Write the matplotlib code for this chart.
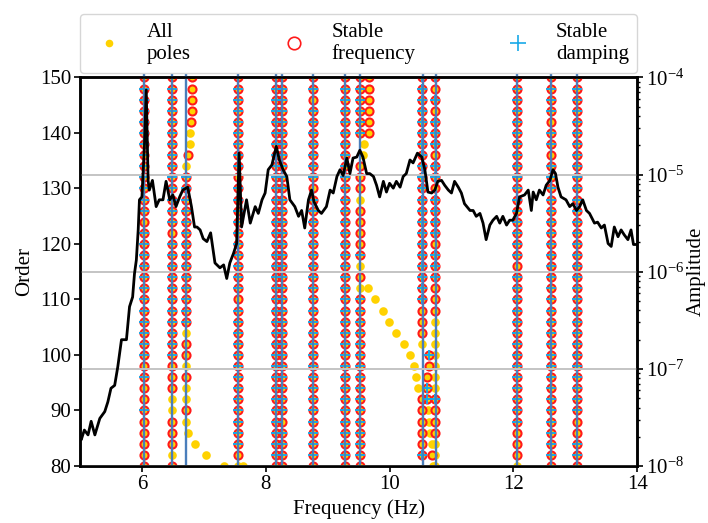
import numpy as np
import matplotlib
matplotlib.use("Agg")
import matplotlib.pyplot as plt
from matplotlib.lines import Line2D

plt.rcParams['font.family'] = ['Liberation Serif', 'DejaVu Serif']
plt.rcParams['mathtext.fontset'] = 'stix'
plt.rcParams['font.size'] = 15

# ---------------- data ----------------
orders = [80, 82, 84, 86, 88, 90, 92, 94, 96, 98, 100, 102, 104, 106, 108, 110, 112, 114,
          116, 118, 120, 122, 124, 126, 128, 130, 132, 134, 136, 138, 140, 142, 144, 146, 148, 150]

# frequency of each pole column (Hz)
column_freqs = [6.03, 6.48, 6.71, 7.56, 8.16, 8.27, 8.77, 9.28, 9.52, 10.53, 10.74, 12.06, 12.60, 13.02]
# per-order status, order 80 -> 150 (P: pole only, F: stable frequency, D: stable freq + damping, -: none)
column_codes = [
    "FFFFFD FFDFDD DDDDDD DDDDFD DDDDDD DDDDDD",
    "FPFFFP PFFFDD DDDDDD DDDFDD DDDDDD DDDDDD",
    "----PF PPFPFF PDDDDD DDDDDD DDDP-- ------",
    "PFDDDD DDDDDD DDDFDD DDDDDD DDFDDD DDDDDD",
    "FDDDDD DDDDDD DDDDDD DDDDDD DDDDDD DDDDDD",
    "FDDDFD DDDDDD DDDDDD DDDDDD DDDDDD DDDDDD",
    "DDDDDD DDDDDD DDDDDD DDDDDD DFDDDD DDDFDD",
    "DDDDDD DDDDDD DDDDDD DDDDDD DDDDDD DDDDDD",
    "DDDDDD DDDDDD DDDDPF PDFFFF PFFF-- DDDDDD",
    "-DFFFF F----P FFFDDD DDDDDD DDDDDD DDDDDD",
    "PPPFFF DPPPPP PPFFFD DDFDDD DFDDFD DDFDFD",
    "PFFFDD DDDDDD DDDDDD FDDDDD DDDDDD DDDDDD",
    "DDDDDD DDDDDD DDDDDD DDDDDD DDDDFD DFDDDD",
    "DDDFFD DDDDDD DDDDDD DDDDDD DDDDDD DDDDDD",
]

# poles that wander off the columns
extra_freq = [6.75, 6.77, 6.77, 6.80, 6.81, 6.81, 6.81, 6.81,
              6.75, 6.86, 7.04, 7.33, 7.63,
              9.67, 9.67, 9.67, 9.67, 9.67, 9.67, 9.58, 9.57,
              9.65, 9.77, 9.89, 9.99, 10.11, 10.24, 10.33, 10.39, 10.42, 10.46,
              10.63, 10.63, 10.61, 10.61, 10.61, 10.62, 10.64, 10.65, 10.68, 10.69, 10.70]
extra_order = [136, 138, 140, 142, 144, 146, 148, 150,
               86, 84, 82, 80, 80,
               140, 142, 144, 146, 148, 150, 138, 136,
               112, 110, 108, 106, 104, 102, 100, 98, 96, 94,
               100, 98, 96, 94, 92, 90, 88, 86, 84, 82, 80]
extra_code = ["F", "P", "P", "F", "F", "F", "F", "F",
              "P", "P", "P", "P", "P",
              "F", "F", "F", "F", "F", "F", "P", "P",
              "P", "P", "P", "P", "P", "P", "P", "P", "P", "P",
              "D", "F", "F", "D", "D", "P", "P", "P", "P", "F", "P"]

# identified modes (vertical lines)
mode_freqs = [6.03, 6.48, 6.71, 7.56, 8.16, 8.27, 8.77, 9.28, 9.52, 10.54, 10.75, 12.06, 12.60, 13.02]

# amplitude spectrum
spec_freq = [5.00, 5.02, 5.07, 5.13, 5.18, 5.24, 5.32, 5.40, 5.45, 5.50, 5.56, 5.61, 5.67, 5.75, 5.80,
             5.85, 5.88, 5.91, 5.94, 5.96, 6.00, 6.04, 6.07, 6.10, 6.12, 6.17, 6.23, 6.28, 6.34, 6.39,
             6.45, 6.50, 6.55, 6.61, 6.66, 6.74, 6.80, 6.85, 6.89, 6.94, 6.99, 7.05, 7.11, 7.18, 7.26,
             7.32, 7.37, 7.42, 7.48, 7.53, 7.57, 7.61, 7.69, 7.75, 7.83, 7.88, 7.94, 7.99, 8.04, 8.10,
             8.17, 8.22, 8.28, 8.34, 8.39, 8.47, 8.53, 8.58, 8.63, 8.69, 8.74, 8.78, 8.85, 8.90, 8.98,
             9.04, 9.09, 9.15, 9.20, 9.25, 9.31, 9.36, 9.41, 9.47, 9.52, 9.57, 9.63, 9.68, 9.74, 9.79,
             9.84, 9.90, 9.95, 10.00, 10.06, 10.11, 10.17, 10.22, 10.27, 10.33, 10.38, 10.45, 10.52, 10.57, 10.62,
             10.68, 10.73, 10.78, 10.84, 10.89, 10.95, 11.00, 11.05, 11.11, 11.16, 11.21, 11.30, 11.35, 11.40, 11.46,
             11.51, 11.56, 11.62, 11.67, 11.73, 11.78, 11.83, 11.89, 11.94, 11.99, 12.05, 12.10, 12.18, 12.24, 12.29,
             12.32, 12.37, 12.42, 12.48, 12.53, 12.59, 12.64, 12.68, 12.72, 12.77, 12.85, 12.91, 12.96, 13.02, 13.07,
             13.12, 13.18, 13.23, 13.31, 13.36, 13.42, 13.47, 13.53, 13.58, 13.63, 13.69, 13.74, 13.79, 13.85, 13.90,
             13.94, 13.98]
spec_log_amp = [-7.70, -7.73, -7.63, -7.68, -7.54, -7.68, -7.51, -7.44, -7.34, -7.20, -7.17, -6.98, -6.70, -6.70, -6.36,
                -6.26, -6.02, -5.88, -5.57, -5.26, -5.23, -4.71, -4.13, -5.06, -5.16, -5.06, -5.33, -5.26, -5.26, -5.07,
                -5.26, -5.21, -5.33, -5.23, -5.16, -5.13, -5.33, -5.54, -5.54, -5.57, -5.66, -5.69, -5.60, -5.91, -5.96,
                -5.93, -6.07, -5.91, -5.81, -5.71, -4.78, -5.54, -5.26, -5.50, -5.33, -5.40, -5.26, -5.19, -4.95, -4.90,
                -4.71, -4.85, -4.95, -5.02, -5.26, -5.33, -5.43, -5.37, -5.55, -5.26, -5.16, -5.28, -5.37, -5.40, -5.33,
                -5.16, -5.19, -5.02, -4.95, -5.01, -4.83, -4.99, -4.83, -4.82, -4.75, -4.82, -4.99, -4.99, -5.02, -5.11,
                -5.23, -5.07, -5.18, -5.09, -5.14, -5.07, -5.13, -5.02, -4.99, -4.85, -4.88, -4.78, -4.82, -4.95, -5.18,
                -5.19, -5.16, -5.07, -5.06, -5.11, -5.16, -5.19, -5.07, -5.13, -5.19, -5.30, -5.37, -5.37, -5.43, -5.40,
                -5.50, -5.67, -5.52, -5.47, -5.43, -5.50, -5.43, -5.52, -5.47, -5.47, -5.40, -5.23, -5.21, -5.16, -5.37,
                -5.18, -5.26, -5.16, -5.21, -5.11, -5.06, -4.95, -4.99, -5.13, -5.23, -5.26, -5.33, -5.30, -5.37, -5.33,
                -5.26, -5.37, -5.40, -5.50, -5.49, -5.55, -5.52, -5.71, -5.74, -5.54, -5.64, -5.57, -5.62, -5.67, -5.57,
                -5.72, -5.72]

legend_labels = ["All\npoles", "Stable\nfrequency", "Stable\ndamping"]

# ---------------- colours / styles ----------------
c_pole = '#FFD200'
c_freq = '#FF1A1A'
c_damp = '#19A9E8'
c_line = '#4A7EBB'

# ---------------- assemble pole sets ----------------
pole_f, pole_o = [], []
sf_f, sf_o = [], []
sd_f, sd_o = [], []

def add(f, o, c):
    if c in "PFD":
        pole_f.append(f); pole_o.append(o)
    if c in "FD":
        sf_f.append(f); sf_o.append(o)
    if c == "D":
        sd_f.append(f); sd_o.append(o)

for f, codes in zip(column_freqs, column_codes):
    codes = codes.replace(" ", "")
    assert len(codes) == len(orders), (f, len(codes))
    for o, c in zip(orders, codes):
        add(f, o, c)
for f, o, c in zip(extra_freq, extra_order, extra_code):
    add(f, o, c)

# ---------------- figure ----------------
fig = plt.figure(figsize=(7.08, 5.23), dpi=100)
ax = fig.add_axes([0.113, 0.109, 0.787, 0.743])

ax.plot(pole_f, pole_o, ls='none', marker='o', ms=6.2, color=c_pole, mew=0, zorder=2)
ax.plot(sf_f, sf_o, ls='none', marker='o', ms=5.8, mfc='none', mec=c_freq, mew=1.5, zorder=3)
ax.plot(sd_f, sd_o, ls='none', marker='+', ms=6.5, color=c_damp, mew=1.4, zorder=4)
ax.vlines(mode_freqs, 80, 150.7, colors=c_line, lw=1.7, zorder=5, clip_on=False)

ax.set_xlim(5, 14)
ax.set_ylim(80, 150)
ax.set_xticks([6, 8, 10, 12, 14])
ax.set_yticks([80, 90, 100, 110, 120, 130, 140, 150])
ax.set_xlabel('Frequency (Hz)')
ax.set_ylabel('Order')

ax2 = ax.twinx()
ax2.set_yscale('log')
ax2.plot(spec_freq, 10.0 ** np.array(spec_log_amp), color='black', lw=2.0, zorder=3)
ax2.set_ylim(1e-8, 1e-4)
ax2.set_xlim(5, 14)
ax2.grid(True, which='major', axis='y', color='#c4c4c4', lw=1.4, zorder=0)
ax2.set_ylabel('Amplitude', labelpad=2)

for a in (ax, ax2):
    for s in a.spines.values():
        s.set_linewidth(1.8)
    a.tick_params(width=1.2, length=4, pad=2.5)
ax2.tick_params(which='minor', width=1.0, length=2.5)

handles = [
    Line2D([], [], ls='none', marker='o', ms=5.5, color=c_pole, mew=0),
    Line2D([], [], ls='none', marker='o', ms=9, mfc='none', mec=c_freq, mew=1.2),
    Line2D([], [], ls='none', marker='+', ms=11, color=c_damp, mew=1.2),
]
ax.legend(handles, legend_labels, loc='lower left', bbox_to_anchor=(0, 1.012, 1, 0.1),
          mode='expand', ncol=3, borderaxespad=0, fontsize=15, frameon=True)

fig.savefig('out.png', dpi=100)
